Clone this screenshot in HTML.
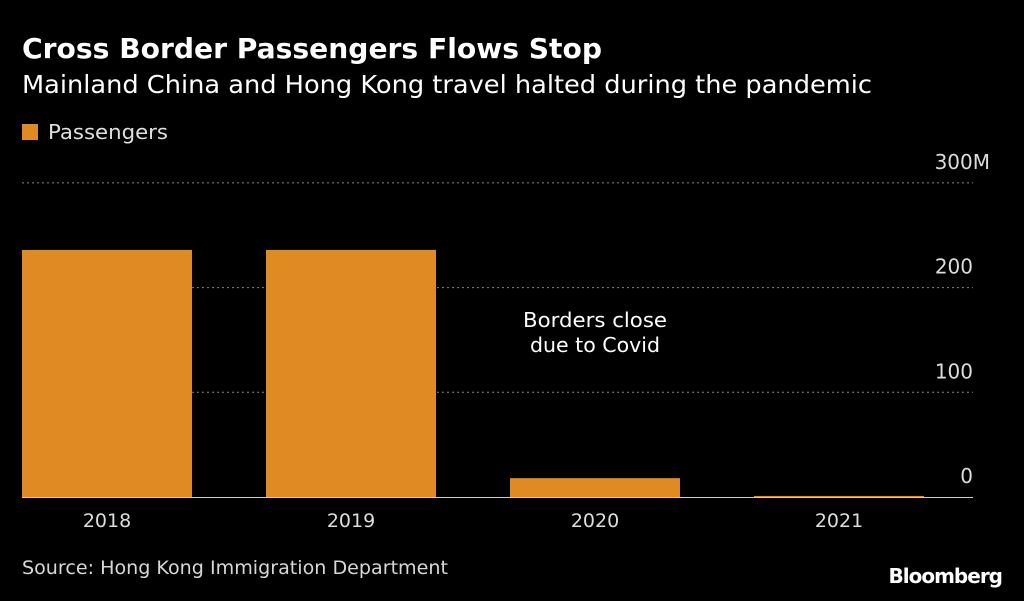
<!DOCTYPE html>
<html><head><meta charset="utf-8"><style>
body{margin:0;background:#000;width:1024px;height:597px;overflow:hidden;font-family:"DejaVu Sans","Liberation Sans",sans-serif;color:#fff}
</style></head><body>
<svg width="1024" height="597" id="svg" font-family="DejaVu Sans, Liberation Sans, sans-serif">
<text x="22" y="58" font-size="28" font-weight="bold" fill="#fff" textLength="580" lengthAdjust="spacingAndGlyphs">Cross Border Passengers Flows Stop</text>
<text x="22" y="93" font-size="25" fill="#fff" textLength="850" lengthAdjust="spacingAndGlyphs">Mainland China and Hong Kong travel halted during the pandemic</text>
<rect x="22" y="124" width="16" height="16" fill="#e08a24"/>
<text x="48" y="139" font-size="20" fill="#e0e0e0" textLength="120" lengthAdjust="spacingAndGlyphs">Passengers</text>
<g id="grid"></g><g id="bars"></g><g id="xlabels"></g>
<text x="595" y="327" font-size="20" fill="#fff" text-anchor="middle" textLength="144" lengthAdjust="spacingAndGlyphs">Borders close</text>
<text x="595" y="352" font-size="20" fill="#fff" text-anchor="middle" textLength="130" lengthAdjust="spacingAndGlyphs">due to Covid</text>
<text x="22" y="574" font-size="19" fill="#d8d8d8" textLength="426" lengthAdjust="spacingAndGlyphs">Source: Hong Kong Immigration Department</text>
<text x="1002" y="583" font-size="20" font-weight="bold" fill="#fff" text-anchor="end" letter-spacing="-1">Bloomberg</text>
</svg>
<script>
const categories=["2018","2019","2020","2021"];
const values=[236,236,18,1];
const ticks=[0,100,200,300];
const tickLabels=["0","100","200","300M"];
const y0=497,ppu=1.047,left=22,step=244,bw=170,right=973;
const y=v=>y0-v*ppu;
const ns="http://www.w3.org/2000/svg";
const g=document.getElementById('grid'),b=document.getElementById('bars'),xl=document.getElementById('xlabels');
ticks.forEach((t,i)=>{
 if(t>0){const l=document.createElementNS(ns,'line');
 l.setAttribute('x1',left);l.setAttribute('x2',right);l.setAttribute('y1',y(t));l.setAttribute('y2',y(t));
 l.setAttribute('stroke','#888');l.setAttribute('stroke-dasharray','2,3');
 
 
 g.appendChild(l);}
 const tx=document.createElementNS(ns,'text');
 const isTop=i===ticks.length-1;
 tx.setAttribute('x',isTop?right+17:right);tx.setAttribute('y',y(t)-14);tx.setAttribute('text-anchor','end');
 tx.setAttribute('font-size','20');tx.setAttribute('fill','#ddd');tx.textContent=tickLabels[i];
 
 
 g.appendChild(tx);
});
categories.forEach((c,i)=>{
 const r=document.createElementNS(ns,'rect');
 r.setAttribute('x',left+i*step);r.setAttribute('width',bw);r.setAttribute('y',y(values[i]));r.setAttribute('height',values[i]*ppu);
 r.setAttribute('fill','#e08a24');
 
 
 b.appendChild(r);
 const t=document.createElementNS(ns,'text');
 t.setAttribute('x',left+i*step+bw/2);t.setAttribute('y',527);t.setAttribute('text-anchor','middle');
 t.setAttribute('font-size','19');t.setAttribute('fill','#ddd');t.textContent=c;
 
 
 xl.appendChild(t);
});
const base=document.createElementNS(ns,'line');
base.setAttribute('x1',left);base.setAttribute('x2',right);base.setAttribute('y1',y0+0.5);base.setAttribute('y2',y0+0.5);
base.setAttribute('stroke','#ccc');base.setAttribute('stroke-width','1');


g.appendChild(base);
</script>
</body></html>
